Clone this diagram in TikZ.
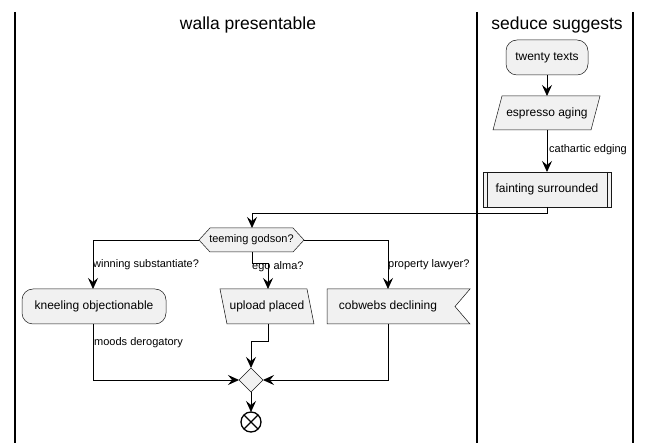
\documentclass[tikz,border=0pt]{standalone}
\usepackage{fontspec}
\setmainfont{Liberation Sans}
\usetikzlibrary{arrows.meta}
\definecolor{nodefill}{HTML}{F1F1F1}
\definecolor{nodeline}{HTML}{181818}
\begin{document}
\begin{tikzpicture}[x=1pt,y=-1pt,
  box/.style={draw=none,inner sep=0pt,font=\fontsize{12}{14}\selectfont},
  outline/.style={draw=nodeline,fill=nodefill,line width=0.5pt},
  flow/.style={draw=black,line width=0.9pt,-{Stealth[length=11pt,width=10pt,inset=4pt]}},
  plain/.style={draw=black,line width=0.9pt},
  lbl/.style={font=\fontsize{11}{13}\selectfont,inner sep=1pt,anchor=west},
  lane/.style={draw=black,line width=1.2pt},
  title/.style={font=\fontsize{17.5}{20}\selectfont}]
\useasboundingbox (0,0) rectangle (651,443);
\fill[white] (0,0) rectangle (651,443);
% lanes
\draw[lane] (15,12) -- (15,443);
\draw[lane] (477,12) -- (477,443);
\draw[lane] (633,12) -- (633,443);
\node[title] (t1) at (248,25) {walla presentable};
\node[title] (t2) at (557,25) {seduce suggests};
% twenty texts
\draw[outline,rounded corners=11pt] (506,40) rectangle (588,75);
\node[box] (tw) at (547,57.5) {twenty texts};
\coordinate (twS) at (547,75);
% espresso aging
\draw[outline] (502,96) -- (600,96) -- (591,130) -- (493,130) -- cycle;
\node[box] (es) at (547,113) {espresso aging};
\coordinate (esN) at (547,96);
\coordinate (esS) at (547,130);
% fainting surrounded
\draw[outline] (483,172) rectangle (611,207);
\draw[nodeline,line width=0.5pt] (487,172) -- (487,207) (607,172) -- (607,207);
\node[box] (fa) at (547,189.5) {fainting surrounded};
\coordinate (faN) at (547,172);
\coordinate (faS) at (547,207);
% hexagon
\draw[outline] (199,240) -- (210,228) -- (293,228) -- (304,240) -- (293,252) -- (210,252) -- cycle;
\node[box,font=\fontsize{11}{13}\selectfont] (hx) at (251.5,240) {teeming godson?};
\coordinate (hxN) at (252,228);
\coordinate (hxS) at (252,252);
\coordinate (hxW) at (199,240);
\coordinate (hxE) at (304,240);
% kneeling objectionable
\draw[outline,rounded corners=11pt] (22,289) rectangle (166,324);
\node[box] (kn) at (94,306.5) {kneeling objectionable};
\coordinate (knN) at (93,289);
\coordinate (knS) at (93,324);
% upload placed
\draw[outline] (220,289) -- (307,289) -- (314,324) -- (227,324) -- cycle;
\node[box] (up) at (267,306.5) {upload placed};
\coordinate (upN) at (268,289);
\coordinate (upS) at (268,324);
% cobwebs declining
\draw[outline] (327,289) -- (470,289) -- (455,306.5) -- (470,324) -- (327,324) -- cycle;
\node[box] (cw) at (388,306.5) {cobwebs declining};
\coordinate (cwN) at (388,289);
\coordinate (cwS) at (388,324);
% merge diamond
\draw[outline] (251,368) -- (263,380) -- (251,392) -- (239,380) -- cycle;
\coordinate (mg) at (251,380);
\coordinate (mgN) at (251,368);
\coordinate (mgS) at (251,392);
\coordinate (mgW) at (239,380);
\coordinate (mgE) at (263,380);
% end
\draw[draw=black,fill=white,line width=1.3pt] (251,422) circle (10);
\draw[black,line width=1.3pt] (251,422) ++(45:10) -- ++(225:20) (251,422) ++(135:10) -- ++(-45:20);
\coordinate (enN) at (251,412);
% connectors
\draw[flow] (twS) -- (esN);
\draw[flow] (esS) -- (faN);
\node[lbl] (l1) at (548,150) {cathartic edging};
\draw[flow] (faS) -- (547,213) -- (252,213) -- (hxN);
\draw[flow] (hxW) -- (93,240) -- (knN);
\node[lbl] (l2) at (92,265) {winning substantiate?};
\draw[flow] (hxS) -- (252,263) -- (268,263) -- (upN);
\node[lbl] (l3) at (251,266.5) {ego alma?};
\draw[flow] (hxE) -- (388,240) -- (cwN);
\node[lbl] (l4) at (387,265) {property lawyer?};
\draw[flow] (knS) -- (93,380) -- (mgW);
\node[lbl] (l5) at (93,343) {moods derogatory};
\draw[flow] (upS) -- (268,341) -- (251,341) -- (mgN);
\draw[flow] (cwS) -- (388,380) -- (mgE);
\draw[flow] (mgS) -- (enN);
\end{tikzpicture}
\end{document}
